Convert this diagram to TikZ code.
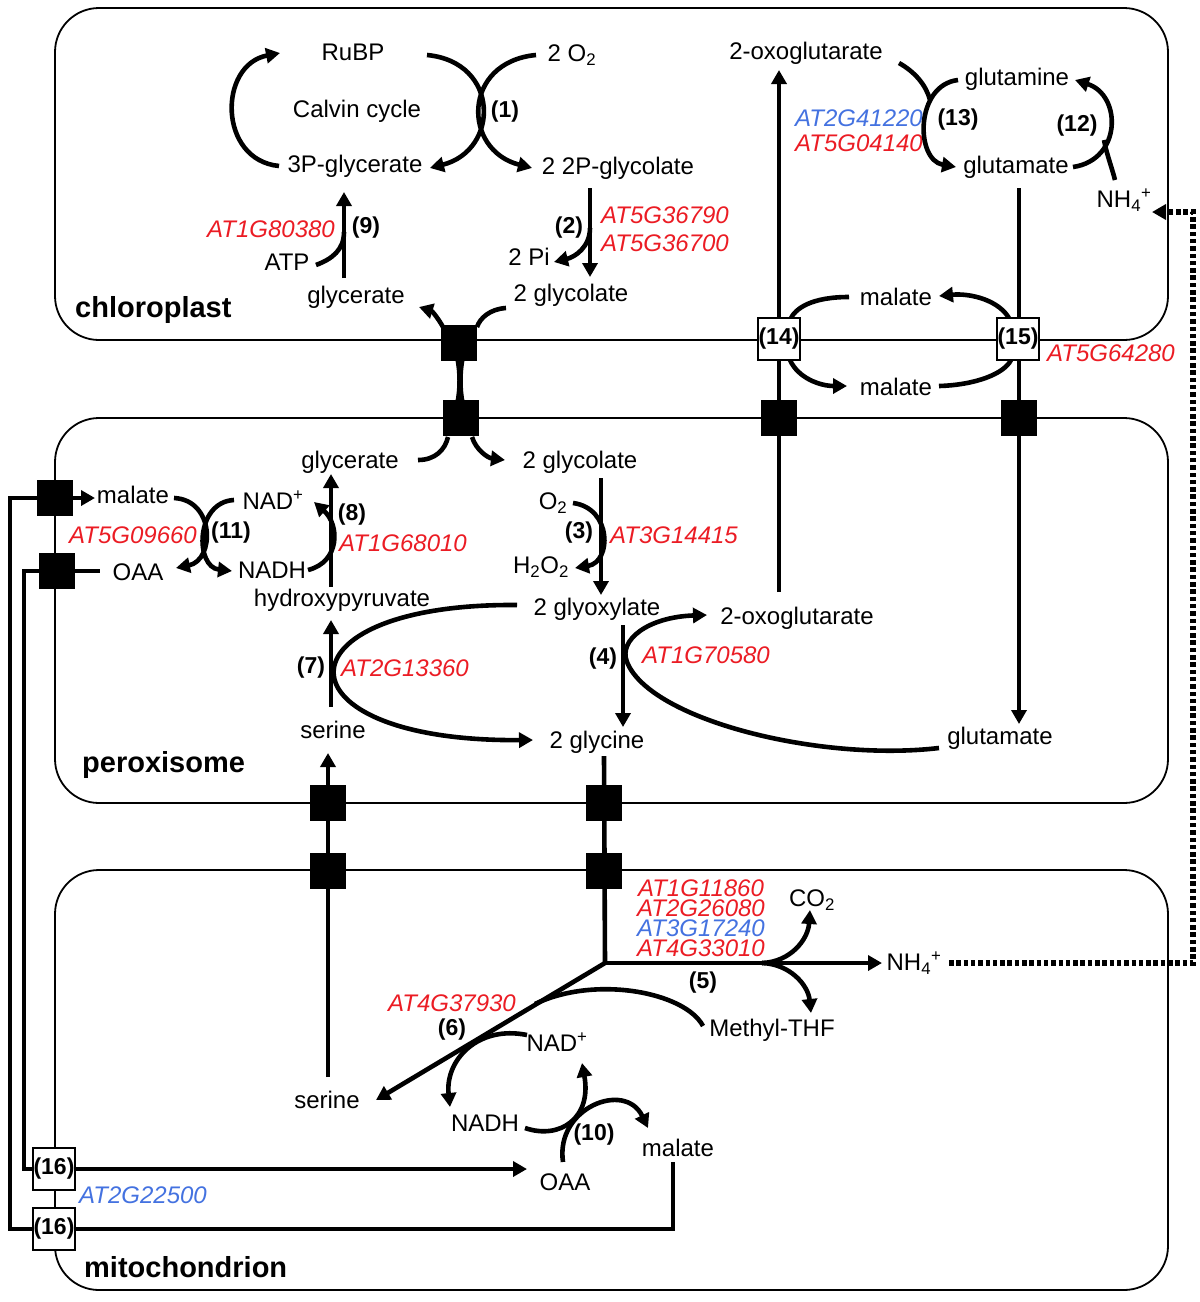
\documentclass[tikz,border=0pt]{standalone}
\usepackage{fontspec}
\setmainfont{Liberation Sans}
\usetikzlibrary{arrows.meta}
\definecolor{genered}{RGB}{235,28,36}
\definecolor{geneblue}{RGB}{68,114,224}
\begin{document}
\begin{tikzpicture}[x=1pt,y=-1pt,
  txt/.style={font=\fontsize{24}{26}\selectfont,inner sep=1pt},
  gene/.style={font=\fontsize{24}{20}\selectfont\itshape,text=genered,inner sep=1pt},
  geneb/.style={gene,text=geneblue},
  num/.style={font=\fontsize{23}{26}\selectfont\bfseries,inner sep=1pt},
  cname/.style={font=\fontsize{29}{32}\selectfont\bfseries,anchor=west,inner sep=0pt},
  comp/.style={draw,line width=1.8pt,rounded corners=44pt},
  flow/.style={line width=4.6pt},
  arr/.style={flow,-{Triangle[length=14pt,width=15pt]}},
  port/.style={fill=black,minimum width=36pt,minimum height=36pt,inner sep=0pt},
  wport/.style={draw,line width=1.8pt,fill=white,minimum width=42pt,minimum height=42pt,inner sep=0pt,font=\fontsize{23}{26}\selectfont\bfseries},
  ammonia/.style={line width=6pt,dash pattern=on 4.5pt off 2.8pt}]
\useasboundingbox (0,0) rectangle (1200,1302);
% compartments
\draw[comp] (55,8) rectangle (1168,340);
\draw[comp] (55,418) rectangle (1168,803);
\draw[comp] (55,870) rectangle (1168,1290);
\node[cname] (chl) at (75,310) {chloroplast};
\node[cname] (per) at (82,765) {peroxisome};
\node[cname] (mit) at (84,1267) {mitochondrion};

% chloroplast
\node[txt] (rubp) at (353,52) {RuBP};
\node[txt] (calvin) at (357,111) {Calvin cycle};
\node[txt] (pga) at (355,166) {3P-glycerate};
\node[txt] (oxy) at (572,55) {2 O\textsubscript{2}};
\node[num] (r1) at (505,112) {(1)};
\node[txt] (pglyc) at (618,168) {2 2P-glycolate};
\node[num] (r2) at (569,228) {(2)};
\node[gene] (g2a) at (665,215) {AT5G36790};
\node[gene] (g2b) at (665,243) {AT5G36700};
\node[txt] (pi) at (529,257) {2 Pi};
\node[txt] (glyc) at (571,295) {2 glycolate};
\node[gene] (g9) at (271,229) {AT1G80380};
\node[num] (r9) at (366,228) {(9)};
\node[txt] (atp) at (287,262) {ATP};
\node[txt] (glyt) at (356,297) {glycerate};
\node[txt] (oxo) at (806,53) {2-oxoglutarate};
\node[txt] (gln) at (1017,79) {glutamine};
\node[txt] (glu) at (1016,167) {glutamate};
\node[geneb] (g13a) at (859,118) {AT2G41220};
\node[gene] (g13b) at (859,143) {AT5G04140};
\node[num] (r13) at (958,120) {(13)};
\node[num] (r12) at (1077,126) {(12)};
\node[txt] (nh) at (1124,200) {NH\textsubscript{4}\textsuperscript{+}};
\node[txt] (mal1) at (896,297) {malate};
\node[txt] (mal2) at (896,387) {malate};
\node[gene] (g15) at (1111,353) {AT5G64280};

% peroxisome
\node[txt] (pglyt) at (350,462) {glycerate};
\node[txt] (xglyc) at (580,462) {2 glycolate};
\node[txt] (pmal) at (133,495) {malate};
\node[txt] (pnad) at (273,500) {NAD\textsuperscript{+}};
\node[gene] (g11) at (133,535) {AT5G09660};
\node[num] (r11) at (231,533) {(11)};
\node[txt] (poaa) at (138,572) {OAA};
\node[txt] (pnadh) at (272,570) {NADH};
\node[num] (r8) at (352,515) {(8)};
\node[gene] (g8) at (403,543) {AT1G68010};
\node[txt] (po2) at (553,503) {O\textsubscript{2}};
\node[num] (r3) at (579,533) {(3)};
\node[gene] (g3) at (674,535) {AT3G14415};
\node[txt] (h2o2) at (541,567) {H\textsubscript{2}O\textsubscript{2}};
\node[txt] (hpyr) at (342,600) {hydroxypyruvate};
\node[txt] (glx) at (597,609) {2 glyoxylate};
\node[txt] (poxo) at (797,618) {2-oxoglutarate};
\node[num] (r4) at (603,659) {(4)};
\node[gene] (g4) at (706,655) {AT1G70580};
\node[num] (r7) at (311,668) {(7)};
\node[gene] (g7) at (405,668) {AT2G13360};
\node[txt] (pser) at (333,730) {serine};
\node[txt] (gly) at (597,742) {2 glycine};
\node[txt] (pglu) at (1000,738) {glutamate};

% mitochondrion
\node[gene,align=center] (g5) at (701,918) {AT1G11860\\AT2G26080\\\textcolor{geneblue}{AT3G17240}\\AT4G33010};
\node[txt] (co2) at (812,900) {CO\textsubscript{2}};
\node[txt] (mnh) at (914,963) {NH\textsubscript{4}\textsuperscript{+}};
\node[num] (r5) at (703,983) {(5)};
\node[gene] (g6) at (452,1003) {AT4G37930};
\node[num] (r6) at (452,1030) {(6)};
\node[txt] (mnad) at (557,1042) {NAD\textsuperscript{+}};
\node[txt] (thf) at (772,1030) {Methyl-THF};
\node[txt] (mser) at (327,1100) {serine};
\node[txt] (mnadh) at (485,1123) {NADH};
\node[num] (r10) at (594,1135) {(10)};
\node[txt] (mmal) at (678,1148) {malate};
\node[txt] (moaa) at (565,1182) {OAA};
\node[geneb] (g16) at (143,1195) {AT2G22500};

% transporter positions
\coordinate (pa) at (459,343);
\coordinate (pb) at (461,418);
\coordinate (pc) at (779,418);
\coordinate (pd) at (1019,418);
\coordinate (pe) at (55,498);
\coordinate (pf) at (57,571);
\coordinate (pg) at (328,803);
\coordinate (ph) at (328,871);
\coordinate (pk) at (604,803);
\coordinate (pj) at (604,871);
\coordinate (t14) at (779,339);
\coordinate (t15) at (1018,339);
\coordinate (t16a) at (54,1169);
\coordinate (t16b) at (54,1229);

% branch points
\coordinate (cvs) at (279,166);
\coordinate (cv) at (280,53);
\coordinate (c1a) at (427,55);
\coordinate (c1b) at (430,168);
\coordinate (c1c) at (536,55);
\coordinate (c1d) at (532,168);
\coordinate (s2) at (590,188);
\coordinate (e2) at (590,277);
\coordinate (b2) at (590,228);
\coordinate (pi2) at (554,262);
\coordinate (s9) at (344,278);
\coordinate (e9) at (344,192);
\coordinate (atp9) at (316,265);
\coordinate (b9) at (344,232);
\coordinate (oxtip) at (779,70);
\coordinate (oxs) at (779,592);
\coordinate (glus) at (1019,188);
\coordinate (glutip) at (1019,724);
\coordinate (gln13) at (958,80);
\coordinate (glu13) at (956,167);
\coordinate (oxo13) at (899,63);
\coordinate (b13) at (930,100);
\coordinate (glu12) at (1073,167);
\coordinate (gln12) at (1075,80);
\coordinate (nh12) at (1115,180);
\coordinate (b12) at (1104,140);
\coordinate (nhtip) at (1152,212);
\coordinate (dotc) at (1193,963);
\coordinate (mnhe) at (949,963);
\coordinate (jn) at (605,963);
\coordinate (br5) at (762,963);

% chloroplast flows
\draw[arr] (cvs) .. controls (218,160) and (218,65) .. (cv);
\draw[arr] (c1a) .. controls (500,62) and (500,150) .. (c1b);
\draw[arr] (c1c) .. controls (462,62) and (462,150) .. (c1d);
\draw[arr] (s2) -- (e2);
\draw[arr] (b2) .. controls (590,247) and (575,257) .. (pi2);
\draw[arr] (s9) -- (e9);
\draw[flow] (atp9) .. controls (332,259) and (344,250) .. (b9);
\draw[arr] (443,327) .. controls (438,318) and (432,311) .. (419,307);
\draw[flow] (506,308) .. controls (490,309) and (480,318) .. (477,327);
\fill (455,358) .. controls (458,372) and (458,390) .. (455,403) -- (465,403) .. controls (462,390) and (462,372) .. (465,358) -- cycle;
\draw[flow] (418,460) .. controls (435,460) and (445,450) .. (448,437);
\draw[arr] (472,437) .. controls (476,450) and (488,458) .. (505,460);
\draw[arr] (oxs) -- (oxtip);
\draw[arr] (glus) -- (glutip);
\draw[arr] (gln13) .. controls (915,85) and (915,160) .. (glu13);
\draw[flow] (oxo13) .. controls (915,72) and (926,85) .. (b13);
\draw[arr] (glu12) .. controls (1122,160) and (1122,95) .. (gln12);
\draw[flow] (nh12) .. controls (1112,168) and (1106,152) .. (b12);
\draw[arr] (1010,320) .. controls (1000,300) and (970,293) .. (939,296);
\draw[flow] (849,297) .. controls (812,297) and (795,308) .. (790,320);
\draw[arr] (790,360) .. controls (798,378) and (820,386) .. (847,386);
\draw[flow] (939,386) .. controls (975,385) and (1004,374) .. (1011,360);
\draw[ammonia,-{Triangle[length=14pt,width=15pt]}] (mnhe) -- (dotc) |- (nhtip);

% peroxisome flows
\draw[arr] (pe) -- (95,498);
\draw[flow] (pf) -- (100,571);
\draw[flow] (pe) -- (10,498) |- (t16b);
\draw[flow] (pf) -- (24,571) |- (t16a);
\draw[arr] (t16a) -- (527,1169);
\draw[flow] (t16b) -| (673,1162);
\draw[arr] (174,498) .. controls (215,500) and (215,560) .. (176,568);
\draw[arr] (234,500) .. controls (195,502) and (195,567) .. (232,571);
\draw[arr] (331,587) -- (331,474);
\draw[arr] (308,570) .. controls (340,562) and (340,525) .. (314,502);
\draw[arr] (601,478) -- (601,595);
\draw[arr] (573,503) .. controls (612,508) and (612,562) .. (575,568);
\draw[arr] (331,707) -- (331,620);
\draw[arr] (517,605) .. controls (272,603) and (272,742) .. (533,740);
\draw[arr] (623,625) -- (623,727);
\draw[arr] (939,748) .. controls (820,762) and (650,720) .. (627,662) .. controls (618,640) and (648,617) .. (707,615);
\draw[arr] (328,1077) -- (328,753);
\draw[flow] (604,756) -- (jn);

% mitochondrion flows
\draw[arr] (jn) -- (882,963);
\draw[arr] (br5) .. controls (790,962) and (808,940) .. (810,910);
\draw[arr] (br5) .. controls (790,964) and (808,985) .. (811,1013);
\draw[arr] (jn) -- (376,1100);
\draw[flow] (703,1026) .. controls (685,992) and (595,975) .. (535,1004);
\draw[arr] (527,1035) .. controls (478,1025) and (445,1060) .. (450,1107);
\draw[arr] (525,1128) .. controls (560,1140) and (592,1118) .. (582,1063);
\draw[arr] (563,1162) .. controls (555,1108) and (625,1080) .. (648,1128);

% transporters
\foreach \p in {pa,pb,pc,pd,pe,pf,pg,ph,pk,pj}
  \node[port] at (\p) {};
\node[wport] at (t14) {(14)};
\node[wport] at (t15) {(15)};
\node[wport] at (t16a) {(16)};
\node[wport] at (t16b) {(16)};
\end{tikzpicture}
\end{document}
